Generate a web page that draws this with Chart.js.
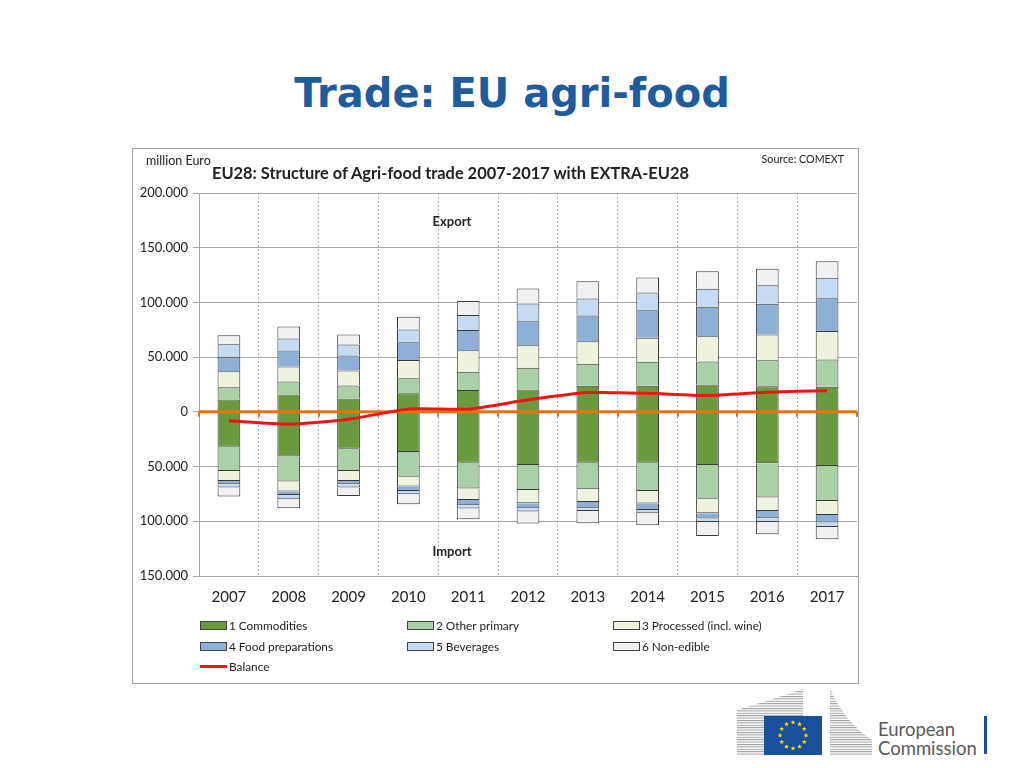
<!DOCTYPE html>
<html>
<head>
<meta charset="utf-8">
<title>Trade: EU agri-food</title>
<script src="https://cdn.jsdelivr.net/npm/chart.js@4.4.0/dist/chart.umd.min.js"></script>
<style>
  body { margin: 0; width: 1024px; height: 768px; background: #fff; position: relative; overflow: hidden; font-family: Lato, "Open Sans", sans-serif; color: #222; }
  #pageTitle { position: absolute; left: 0; top: 70px; width: 1024px; text-align: center; font: bold 40px "DejaVu Sans", sans-serif; color: #1f5c9e; }
  #box { position: absolute; left: 132px; top: 148px; width: 725px; height: 534px; border: 1px solid #a6a6a6; }
  #box canvas { position: absolute; left: 0; top: 0; }
  .txt { position: absolute; white-space: nowrap; }
  #unit { left: 13px; top: 4px; font-size: 12.5px; }
  #source { right: 14px; top: 3px; font-size: 10.7px; }
  #chartTitle { left: 79px; top: 14px; font-size: 16.4px; font-weight: bold; }
  .side { font-size: 13px; font-weight: bold; width: 80px; text-align: center; }
  #legend { position: absolute; left: 67px; top: 469px; width: 650px; }
  .item { position: absolute; font-size: 11.8px; display: flex; align-items: center; white-space: nowrap; }
  .sw { width: 25px; height: 7px; border: 1px solid #444; margin-right: 2px; }
  .ln { width: 27px; height: 3px; margin-right: 2px; }
  #logo { position: absolute; left: 730px; top: 684px; }
</style>
</head>
<body>
<div id="pageTitle">Trade: EU agri-food</div>
<div id="box">
  <canvas id="tradeChart" width="725" height="534"></canvas>
  <div class="txt" id="unit">million Euro</div>
  <div class="txt" id="source">Source: COMEXT</div>
  <div class="txt" id="chartTitle">EU28: Structure of Agri-food trade 2007-2017 with EXTRA-EU28</div>
  <div class="txt side" style="left:279px; top:64px;">Export</div>
  <div class="txt side" style="left:279px; top:394px;">Import</div>
  <div id="legend"></div>
</div>
<svg id="logo" width="290" height="80" viewBox="730 684 290 80">
  <defs>
    <pattern id="stripes" width="4" height="2.4" patternUnits="userSpaceOnUse">
      <rect width="4" height="1" fill="#9a9a9a"></rect>
    </pattern>
  </defs>
  <polygon points="737,710 770,700 803,689 803,756 737,756" fill="url(#stripes)"></polygon>
  <path d="M830,689 Q845,722 872,740 L872,756 L830,756 Z" fill="url(#stripes)"></path>
  <rect x="764" y="716" width="58" height="39" fill="#1a4f9c"></rect>
  <g id="stars"></g>
  <text x="878" y="736" font-family="Lato, sans-serif" font-size="18.5" fill="#5a5a5a">European</text>
  <text x="878" y="755" font-family="Lato, sans-serif" font-size="18.5" fill="#5a5a5a">Commission</text>
  <rect x="984" y="716" width="3" height="38" fill="#1a4f9c"></rect>
</svg>
<script>
// million Euro
const years = ['2007', '2008', '2009', '2010', '2011', '2012', '2013', '2014', '2015', '2016', '2017'];

// export side (positive)
const expCommodities = [11400, 15900, 12300, 16900, 19900, 20500, 23900, 23900, 25100, 23500, 23000];
const expOtherPrimary = [11000, 11900, 11900, 13700, 16800, 19800, 20100, 21900, 21000, 23700, 24900];
const expProcessed = [14600, 13700, 13700, 16700, 19700, 20600, 20600, 21900, 23100, 23500, 25900];
const expFoodPrep = [12800, 14600, 13700, 16400, 18300, 21900, 23500, 25200, 26800, 28000, 30100];
const expBeverages = [11900, 11000, 10000, 11600, 13700, 16200, 15500, 16200, 16400, 17000, 18600];
const expNonEdible = [8200, 11000, 9100, 11600, 12800, 13700, 15800, 13700, 16100, 15000, 15200];

// import side (negative)
const impCommodities = [-31800, -40900, -33600, -36700, -46400, -48600, -46400, -46400, -48600, -47000, -49500];
const impOtherPrimary = [-22300, -22800, -20500, -22500, -23700, -22800, -24400, -25900, -30700, -31300, -32000];
const impProcessed = [-9100, -9100, -9100, -9100, -10400, -12100, -11600, -11500, -13400, -12200, -12800];
const impFoodPrep = [-3000, -3100, -3000, -4000, -4800, -4600, -5800, -5800, -4800, -6700, -6900];
const impBeverages = [-3000, -3900, -3000, -3000, -3000, -3000, -2500, -3000, -3100, -3400, -4000];
const impNonEdible = [-8200, -8200, -7700, -9100, -9800, -11000, -11200, -11000, -12800, -11200, -11200];

const balance = [-8200, -11300, -6700, 2500, 2500, 11000, 17600, 17000, 14900, 18000, 19400];

const groupNames = ['1 Commodities', '2 Other primary', '3 Processed (incl. wine)', '4 Food preparations', '5 Beverages', '6 Non-edible'];
const groupColors = ['#6b9a3e', '#abcfa7', '#eef3df', '#8eafd6', '#c6daf1', '#f1f1f1'];
const yTicks = [-150000, -100000, -50000, 0, 50000, 100000, 150000, 200000];

const exportSeries = [expCommodities, expOtherPrimary, expProcessed, expFoodPrep, expBeverages, expNonEdible];
const importSeries = [impCommodities, impOtherPrimary, impProcessed, impFoodPrep, impBeverages, impNonEdible];

const datasets = [{
    type: 'line',
    label: 'Balance',
    data: balance,
    borderColor: '#ee1515',
    backgroundColor: '#ee1515',
    borderWidth: 3,
    pointRadius: 0,
    tension: 0.2,
    stack: 'balance',
    order: 0
}];
exportSeries.forEach((d, i) => {
    datasets.push({ label: groupNames[i], data: d, backgroundColor: groupColors[i], borderColor: '#3a3a3a', borderWidth: 1, stack: 'trade', order: 1 });
});
importSeries.forEach((d, i) => {
    datasets.push({ label: groupNames[i] + ' (import)', data: d, backgroundColor: groupColors[i], borderColor: '#3a3a3a', borderWidth: 1, stack: 'trade', order: 1 });
});

// orange zero axis, drawn over the bars but under the balance line
const zeroAxis = {
    id: 'zeroAxis',
    beforeDatasetDraw(chart, args) {
        if (chart.data.datasets[args.index].type !== 'line') return;
        const { ctx, chartArea, scales } = chart;
        const y0 = scales.y.getPixelForValue(0);
        ctx.save();
        ctx.strokeStyle = '#e8730c';
        ctx.lineWidth = 2;
        ctx.beginPath();
        const step = (chartArea.right - chartArea.left) / years.length;
        for (let i = 0; i <= years.length; i++) {
            const px = Math.round(chartArea.left + step * i);
            ctx.moveTo(px, y0);
            ctx.lineTo(px, y0 + 5);
        }
        ctx.stroke();
        ctx.lineWidth = 3;
        ctx.beginPath();
        ctx.moveTo(chartArea.left, y0);
        ctx.lineTo(chartArea.right, y0);
        ctx.stroke();
        ctx.restore();
    }
};

const fmt = v => Math.abs(v).toString().replace(/\B(?=(\d{3})+(?!\d))/g, '.');

const chart = new Chart(document.getElementById('tradeChart'), {
    type: 'bar',
    data: { labels: years, datasets: datasets },
    options: {
        responsive: false,
        animation: false,
        layout: { padding: { top: 44, right: 1, left: 0, bottom: 77 } },
        plugins: { legend: { display: false }, tooltip: { enabled: false } },
        datasets: { bar: { categoryPercentage: 1, barPercentage: 0.38 } },
        scales: {
            x: {
                stacked: true,
                afterFit: s => { s.height = 30; },
                grid: {
                    color: c => (c.index === undefined || c.index === 0) ? 'rgba(0,0,0,0)' : '#b0b0b0',
                    drawTicks: false
                },
                border: { color: '#a6a6a6', dash: [2, 2] },
                ticks: { color: '#222', padding: 12, font: { family: 'Lato', size: 15 } }
            },
            y: {
                stacked: true,
                min: -150000,
                max: 200000,
                afterFit: s => { s.width = 66; },
                afterBuildTicks: s => { s.ticks = yTicks.map(v => ({ value: v })); },
                grid: { color: '#a6a6a6', tickLength: 6 },
                border: { color: '#a6a6a6' },
                ticks: { color: '#222', padding: 5, font: { family: 'Lato', size: 13 }, callback: v => fmt(v) }
            }
        }
    },
    plugins: [zeroAxis]
});

// legend in three columns, taken from the chart datasets
const legend = document.getElementById('legend');
const cols = [0, 207, 413];
const items = chart.data.datasets.filter(d => d.stack === 'trade' && !d.label.includes('(import)'));
items.forEach((d, i) => {
    const el = document.createElement('div');
    el.className = 'item';
    el.style.left = cols[i % 3] + 'px';
    el.style.top = (Math.floor(i / 3) * 20.5) + 'px';
    el.innerHTML = '<span class="sw" style="background:' + d.backgroundColor + '"></span>' + d.label;
    legend.appendChild(el);
});
const bal = chart.data.datasets[0];
const balEl = document.createElement('div');
balEl.className = 'item';
balEl.style.left = '0px';
balEl.style.top = '41px';
balEl.innerHTML = '<span class="ln" style="background:' + bal.borderColor + '"></span>' + bal.label;
legend.appendChild(balEl);

// EU flag stars
const stars = document.getElementById('stars');
let starPaths = '';
for (let k = 0; k < 12; k++) {
    const a = k * Math.PI / 6;
    const cx = 793 + 13 * Math.cos(a), cy = 735.5 + 13 * Math.sin(a);
    let p = '';
    for (let j = 0; j < 10; j++) {
        const r = j % 2 ? 1.1 : 2.6;
        const b = -Math.PI / 2 + j * Math.PI / 5;
        p += (j ? 'L' : 'M') + (cx + r * Math.cos(b)).toFixed(2) + ',' + (cy + r * Math.sin(b)).toFixed(2);
    }
    starPaths += '<path d="' + p + 'Z" fill="#ffdd00"></path>';
}
stars.innerHTML = starPaths;
</script>
</body>
</html>
